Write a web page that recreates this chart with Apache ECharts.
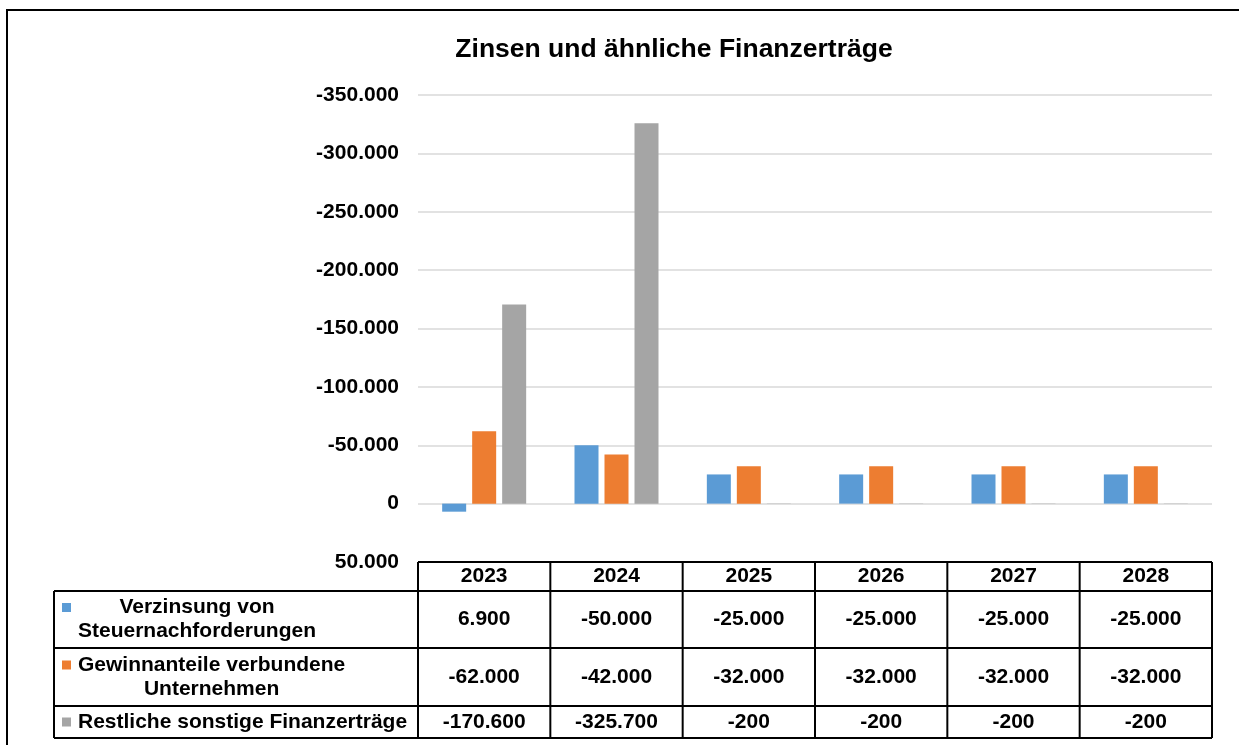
<!DOCTYPE html>
<html>
<head>
<meta charset="utf-8">
<script src="https://cdn.jsdelivr.net/npm/echarts@6/dist/echarts.min.js"></script>
<style>
  html, body { margin: 0; padding: 0; background: #fff; }
  #main { width: 1239px; height: 745px; }
</style>
</head>
<body>
<div id="main"></div>
<script>
const FONT = '"Liberation Sans", Arial, sans-serif';

// Daten
const years = ['2023', '2024', '2025', '2026', '2027', '2028'];
const verzinsung = [6900, -50000, -25000, -25000, -25000, -25000];
const gewinnanteile = [-62000, -42000, -32000, -32000, -32000, -32000];
const restliche = [-170600, -325700, -200, -200, -200, -200];
const seriesNames = [
    'Verzinsung von Steuernachforderungen',
    'Gewinnanteile verbundene Unternehmen',
    'Restliche sonstige Finanzerträge'
];
const rowLabels = [
    ['Verzinsung von', 'Steuernachforderungen'],
    ['Gewinnanteile verbundene', 'Unternehmen'],
    ['Restliche sonstige Finanzerträge']
];
const colors = ['#5B9BD5', '#ED7D31', '#A5A5A5'];
const yMin = -350000;
const yMax = 50000;
const yStep = 50000;

const allSeries = [verzinsung, gewinnanteile, restliche];

// Tausendertrennzeichen wie im Original (de)
function fmt(v) {
    const s = Math.abs(v).toString().replace(/\B(?=(\d{3})+(?!\d))/g, '.');
    return (v < 0 ? '-' : '') + s;
}

const chart = echarts.init(document.getElementById('main'));

chart.setOption({
    animation: false,
    backgroundColor: '#fff',
    title: {
        text: 'Zinsen und ähnliche Finanzerträge',
        left: 669,
        top: 31,
        textAlign: 'center',
        textStyle: { fontFamily: FONT, fontSize: 26.5, fontWeight: 'bold', color: '#000' }
    },
    grid: { left: 418, right: 27, top: 95, bottom: 183 },
    xAxis: {
        type: 'category',
        data: years,
        axisLine: { show: false },
        axisTick: { show: false },
        axisLabel: { show: false }
    },
    yAxis: {
        type: 'value',
        inverse: true,
        min: yMin,
        max: yMax,
        interval: yStep,
        axisLine: { show: false },
        axisTick: { show: false },
        axisLabel: {
            margin: 19,
            fontFamily: FONT,
            fontSize: 21,
            fontWeight: 'bold',
            color: '#000',
            formatter: fmt
        },
        splitLine: { lineStyle: { color: '#d9d9d9', width: 1.5 } }
    },
    series: allSeries.map((data, i) => ({
        name: seriesNames[i],
        type: 'bar',
        data: data,
        barWidth: 24,
        barGap: '25%',
        itemStyle: { color: colors[i] }
    }))
});

// Datentabelle unter dem Diagramm
function drawTable() {
    const cx0 = chart.convertToPixel({ xAxisIndex: 0 }, 0);
    const cx1 = chart.convertToPixel({ xAxisIndex: 0 }, 1);
    const colW = cx1 - cx0;
    const left = cx0 - colW / 2;
    const right = left + colW * years.length;
    const top = chart.convertToPixel({ yAxisIndex: 0 }, yMax);
    const rowH = [29, 57, 58, 32];
    const labelLeft = 54;

    const rowTops = [top];
    rowH.forEach((h, i) => rowTops.push(rowTops[i] + h));
    const bottom = rowTops[rowTops.length - 1];

    const els = [];
    const line = (x1, y1, x2, y2) => els.push({
        type: 'line', z: 100,
        shape: { x1, y1, x2, y2 },
        style: { stroke: '#000', lineWidth: 2 }
    });
    const text = (str, x, y, align, extra) => els.push({
        type: 'text', z: 101, x, y,
        style: Object.assign({
            text: str, fill: '#000', font: 'bold 21px ' + FONT,
            align: align, verticalAlign: 'middle'
        }, extra || {})
    });

    // Rahmen des Diagramms
    els.push({
        type: 'rect', z: 99,
        shape: { x: 7, y: 10, width: 1300, height: 800 },
        style: { fill: 'none', stroke: '#000', lineWidth: 2 }
    });

    // horizontale Linien
    line(left, top, right, top);
    for (let r = 1; r < rowTops.length; r++) {
        line(labelLeft, rowTops[r], right, rowTops[r]);
    }
    // vertikale Linien
    for (let c = 0; c <= years.length; c++) {
        line(left + c * colW, top, left + c * colW, bottom);
    }
    line(labelLeft, rowTops[1], labelLeft, bottom);

    // Kopfzeile
    years.forEach((y, c) => text(y, left + (c + 0.5) * colW, top + rowH[0] / 2, 'center'));

    // Werte + Zeilenbeschriftung
    const ctx = document.createElement('canvas').getContext('2d');
    ctx.font = 'bold 21px ' + FONT;
    allSeries.forEach((data, r) => {
        const yc = rowTops[r + 1] + rowH[r + 1] / 2;
        data.forEach((v, c) => text(fmt(v), left + (c + 0.5) * colW, yc, 'center'));

        const lines = rowLabels[r];
        const maxW = Math.max(...lines.map(l => ctx.measureText(l).width));
        text(lines.join('\n'), 78 + maxW / 2, yc, 'center', { lineHeight: 24 });

        const firstY = yc - (lines.length - 1) * 12;
        els.push({
            type: 'rect', z: 101,
            shape: { x: 62, y: firstY - 4.5, width: 9, height: 9 },
            style: { fill: colors[r] }
        });
    });

    chart.setOption({ graphic: els });
}

drawTable();
</script>
</body>
</html>
